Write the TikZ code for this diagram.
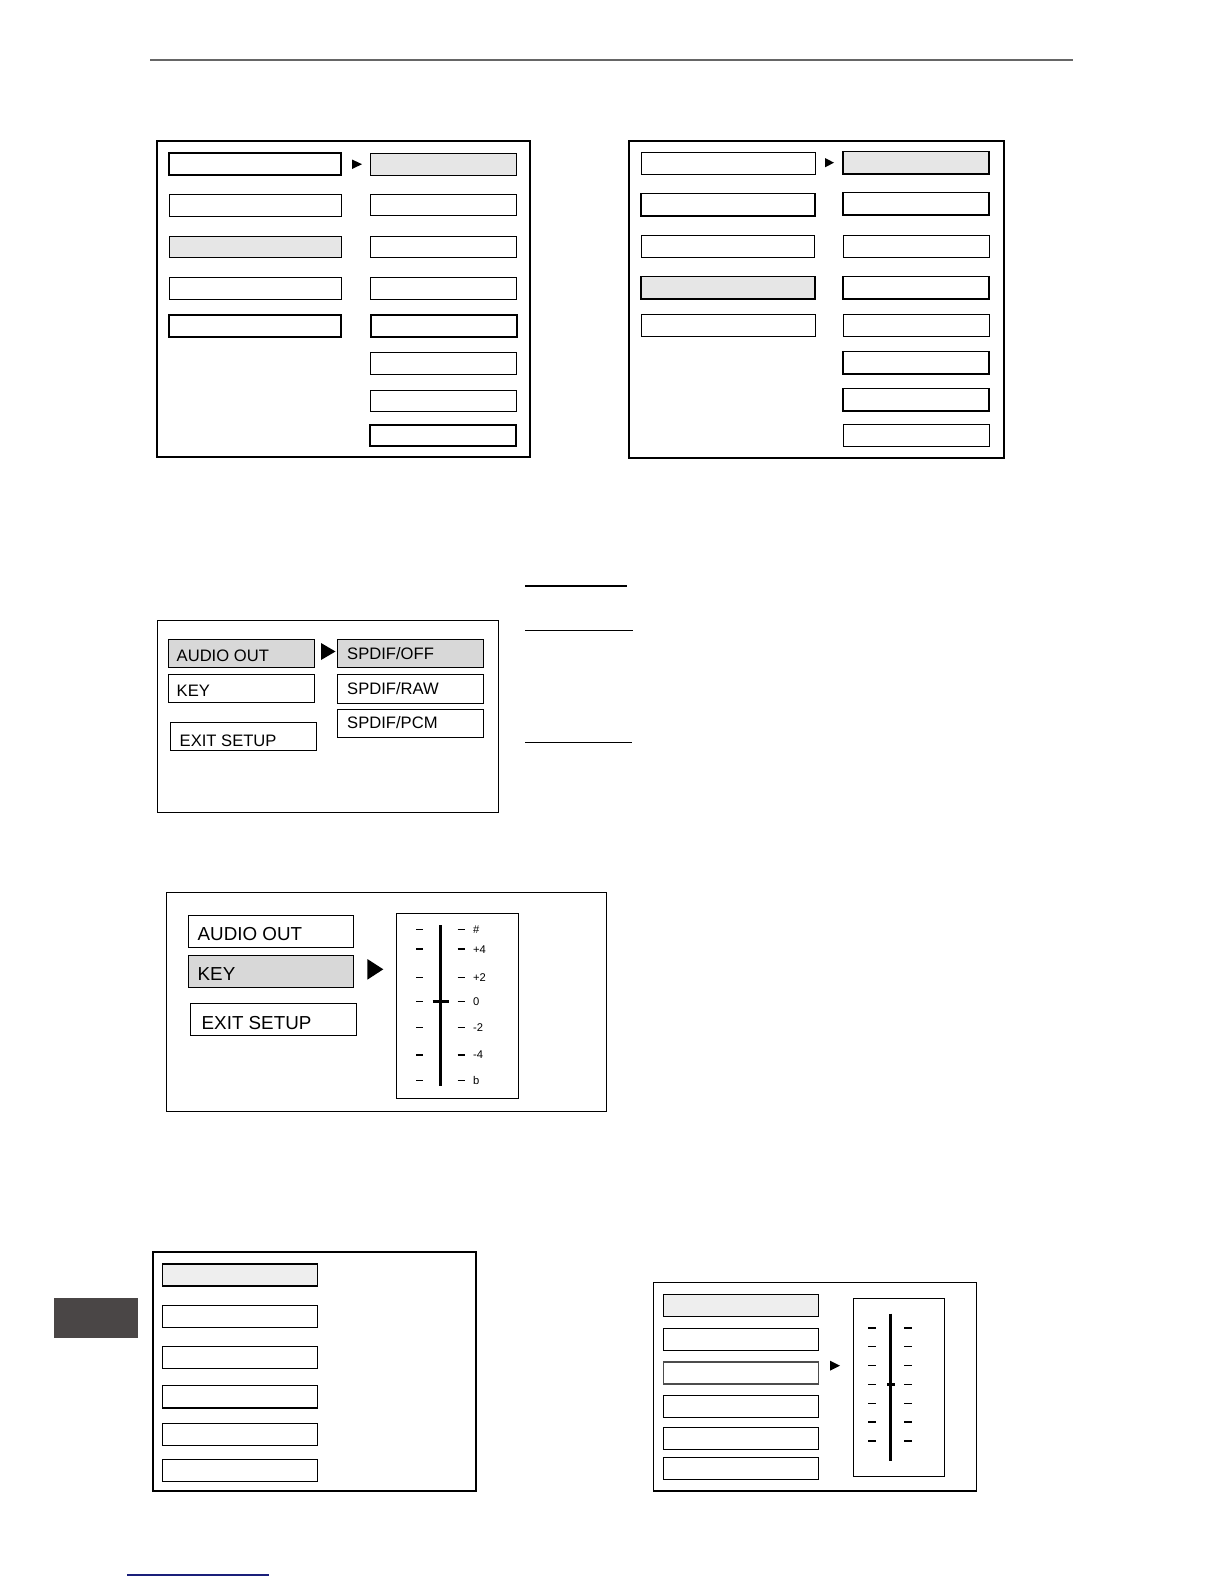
\documentclass[tikz,border=0pt]{standalone}
\usepackage{fontspec}
\setmainfont{Liberation Sans}
\usetikzlibrary{fit}
\definecolor{lightfill}{HTML}{E6E6E6}
\definecolor{midfill}{HTML}{D8D8D8}
\definecolor{palefill}{HTML}{EEEEEE}
\definecolor{rulegray}{HTML}{666666}
\definecolor{tabgray}{HTML}{4A4646}
\definecolor{navyline}{HTML}{1A1F7A}
\tikzset{
  thinbox/.style={draw=black, line width=1pt, inner sep=0pt, outer sep=0pt},
  thickbox/.style={draw=black, line width=1.8pt, inner sep=0pt, outer sep=0pt},
  frame/.style={draw=black, line width=1.3pt, inner sep=0pt, outer sep=0pt},
  thinframe/.style={draw=black, line width=1pt, inner sep=0pt, outer sep=0pt},
  txtC/.style={anchor=base west, inner sep=0pt, font=\fontsize{16.6}{18}\selectfont},
  txtD/.style={anchor=base west, inner sep=0pt, font=\fontsize{18.8}{21}\selectfont},
  sl/.style={anchor=west, inner sep=0pt, font=\fontsize{11.2}{13}\selectfont},
  tri/.style={fill=black},
  tk/.style={line width=1pt},
  tkb/.style={line width=2pt},
}
\begin{document}
\begin{tikzpicture}[x=1pt,y=-1pt]
\useasboundingbox[fill=white] (0,0) rectangle (1224,1584);
% header rule
\draw[rulegray, line width=2pt] (150,60) coordinate (r1) -- (1073,60) coordinate (r2);

% ---------- Panel A ----------
\node[frame, fit={(157,141) (530,457)}] (pA) {};
\node[thickbox, fit={(169,153) (341,175)}] (a1) {};
\node[thinbox, fit={(169,194) (341,216)}] (a2) {};
\node[thinbox, fill=lightfill, fit={(169,236) (341,257)}] (a3) {};
\node[thinbox, fit={(169,277) (341,299)}] (a4) {};
\node[thickbox, fit={(169,315) (341,337)}] (a5) {};
\node[thinbox, fill=lightfill, fit={(370,153) (516,175)}] (b1) {};
\node[thinbox, fit={(370,194) (516,215)}] (b2) {};
\node[thinbox, fit={(370,236) (516,257)}] (b3) {};
\node[thinbox, fit={(370,277) (516,299)}] (b4) {};
\node[thickbox, fit={(371,315) (517,337)}] (b5) {};
\node[thinbox, fit={(370,352) (516,374)}] (b6) {};
\node[thinbox, fit={(370,390) (516,411)}] (b7) {};
\node[thickbox, fit={(370,425) (516,446)}] (b8) {};
\fill[tri] (352,159.5) -- (362,164.2) -- (352,169) -- cycle;

% ---------- Panel B ----------
\node[frame, fit={(629,141) (1004,458)}] (pB) {};
\node[thinbox, fit={(641,152.5) (815,174)}] (c1) {};
\node[thickbox, fit={(641,193.5) (815,216)}] (c2) {};
\node[thinbox, fit={(641,235.5) (814,257.5)}] (c3) {};
\node[thickbox, fill=lightfill, fit={(641,276.5) (815,299)}] (c4) {};
\node[thinbox, fit={(641,314.5) (815,336.5)}] (c5) {};
\node[thickbox, fill=lightfill, fit={(843,151.5) (989,174)}] (d1) {};
\node[thickbox, fit={(843,192.5) (989,215)}] (d2) {};
\node[thinbox, fit={(843,235.5) (989,257.5)}] (d3) {};
\node[thickbox, fit={(843,276.5) (989,299)}] (d4) {};
\node[thinbox, fit={(843,314.5) (989,336.5)}] (d5) {};
\node[thickbox, fit={(843,351.5) (989,374)}] (d6) {};
\node[thickbox, fit={(843,388.5) (989,411)}] (d7) {};
\node[thinbox, fit={(843,424.5) (989,446)}] (d8) {};
\fill[tri] (825,158) -- (834,162.7) -- (825,167.3) -- cycle;

% ---------- Panel C ----------
\node[thinframe, fit={(157,620) (498.5,812)}] (pC) {};
\node[thinbox, fill=midfill, fit={(168.5,639.5) (314.5,667)}] (e1) {};
\node[thinbox, fit={(168.5,674.5) (314.5,702)}] (e2) {};
\node[thinbox, fit={(170.5,722.5) (316.5,750.5)}] (e3) {};
\node[txtC] (e1t) at (176.5,661) {AUDIO OUT};
\node[txtC] (e2t) at (176.5,696) {KEY};
\node[txtC] (e3t) at (179.5,746) {EXIT SETUP};
\fill[tri] (321,643) -- (335.5,651.5) -- (321,660) -- cycle;
\node[thinbox, fill=midfill, fit={(337.5,639.5) (483.5,667)}] (f1) {};
\node[thinbox, fit={(337.5,674.5) (483.5,703)}] (f2) {};
\node[thinbox, fit={(337.5,709.5) (483.5,737)}] (f3) {};
\node[txtC] (f1t) at (347,659) {SPDIF/OFF};
\node[txtC] (f2t) at (347,694.3) {SPDIF/RAW};
\node[txtC] (f3t) at (347,728.3) {SPDIF/PCM};
\draw[line width=2pt] (525,585.5) coordinate (l1a) -- (627,585.5) coordinate (l1b);
\draw[line width=1.2pt] (525,630.3) coordinate (l2a) -- (632.5,630.3) coordinate (l2b);
\draw[line width=1.2pt] (525,742.3) coordinate (l3a) -- (632,742.3) coordinate (l3b);

% ---------- Panel D ----------
\node[thinframe, fit={(166,892.5) (606.5,1111.5)}] (pD) {};
\node[thinbox, fit={(188.5,915.5) (353.5,947)}] (g1) {};
\node[thinbox, fill=midfill, fit={(188.5,955.5) (353.5,987)}] (g2) {};
\node[thinbox, fit={(190.5,1003.5) (356.5,1035)}] (g3) {};
\node[txtD] (g1t) at (197.5,940) {AUDIO OUT};
\node[txtD] (g2t) at (197.5,980) {KEY};
\node[txtD] (g3t) at (201.5,1029.7) {EXIT SETUP};
\fill[tri] (367.3,959) -- (383.3,969.3) -- (367.3,979.7) -- cycle;
\node[thinbox, fit={(396.5,913.5) (518.5,1098)}] (sD) {};
\draw[line width=2.7pt] (440.3,925) coordinate (barDt) -- (440.3,1086) coordinate (barDb);
\draw[line width=3pt] (432.7,1001.3) -- (448.7,1001.3);
\foreach \yy/\lab/\st in {929.3/\#/tk, 949.3/+4/tkb, 977.3/+2/tk, 1001.3/0/tk, 1027.7/-2/tk, 1055/-4/tkb, 1080.7/b/tk}{
  \draw[\st] (416,\yy) -- (423.3,\yy);
  \draw[\st] (457.7,\yy) -- (464.7,\yy);
  \node[sl] at (473,\yy) {\lab};
}

% ---------- Panel E ----------
\node[thickbox, line width=2pt, fit={(153,1252) (475.5,1490.5)}] (pE) {};
\node[thickbox, fill=palefill, fit={(162.5,1264) (317.5,1286)}] (h1) {};
\node[thinbox, fit={(162.5,1305.5) (317.5,1327.5)}] (h2) {};
\node[thinbox, fit={(162.5,1346.5) (317.5,1368.5)}] (h3) {};
\node[thickbox, fit={(162.5,1385.5) (317.5,1408)}] (h4) {};
\node[thinbox, fit={(162.5,1423.5) (317.5,1445.5)}] (h5) {};
\node[thinbox, fit={(162.5,1459.5) (317.5,1481.5)}] (h6) {};

% side tab
\fill[tabgray] (54,1298) rectangle (137.7,1337.7);

% ---------- Panel F ----------
\node[frame, line width=1.5pt, fit={(653.5,1282.5) (976.5,1491)}] (pF) {};
\node[thinbox, fill=palefill, fit={(663.5,1294.5) (818.5,1316.5)}] (k1) {};
\node[thinbox, fit={(663.5,1328.5) (818.5,1350.5)}] (k2) {};
\node[thinbox, draw=black!70, line width=1.3pt, fit={(663.5,1362) (818.5,1384)}] (k3) {};
\node[thinbox, fit={(663.5,1395.5) (818.5,1417.5)}] (k4) {};
\node[thinbox, fit={(663.5,1427.5) (818.5,1449.5)}] (k5) {};
\node[thinbox, fit={(663.5,1457.5) (818.5,1479.5)}] (k6) {};
\fill[tri] (830,1360.7) -- (840,1365.7) -- (830,1370.7) -- cycle;
\node[thinbox, fit={(853.5,1298.5) (944.5,1476)}] (sF) {};
\draw[line width=2.7pt] (890.3,1313.7) coordinate (barFt) -- (890.3,1461) coordinate (barFb);
\draw[line width=2.5pt] (887,1384.3) -- (895,1384.3);
\foreach \yy/\st in {1328/tkb, 1346.3/tk, 1365.3/tk, 1384.3/tk, 1403.3/tk, 1422/tkb, 1440.7/tkb}{
  \draw[\st] (868,\yy) -- (876,\yy);
  \draw[\st] (904,\yy) -- (912,\yy);
}

% bottom blue rule
\draw[navyline, line width=1.3pt] (127,1575) coordinate (n1) -- (269,1575) coordinate (n2);
\end{tikzpicture}
\end{document}
